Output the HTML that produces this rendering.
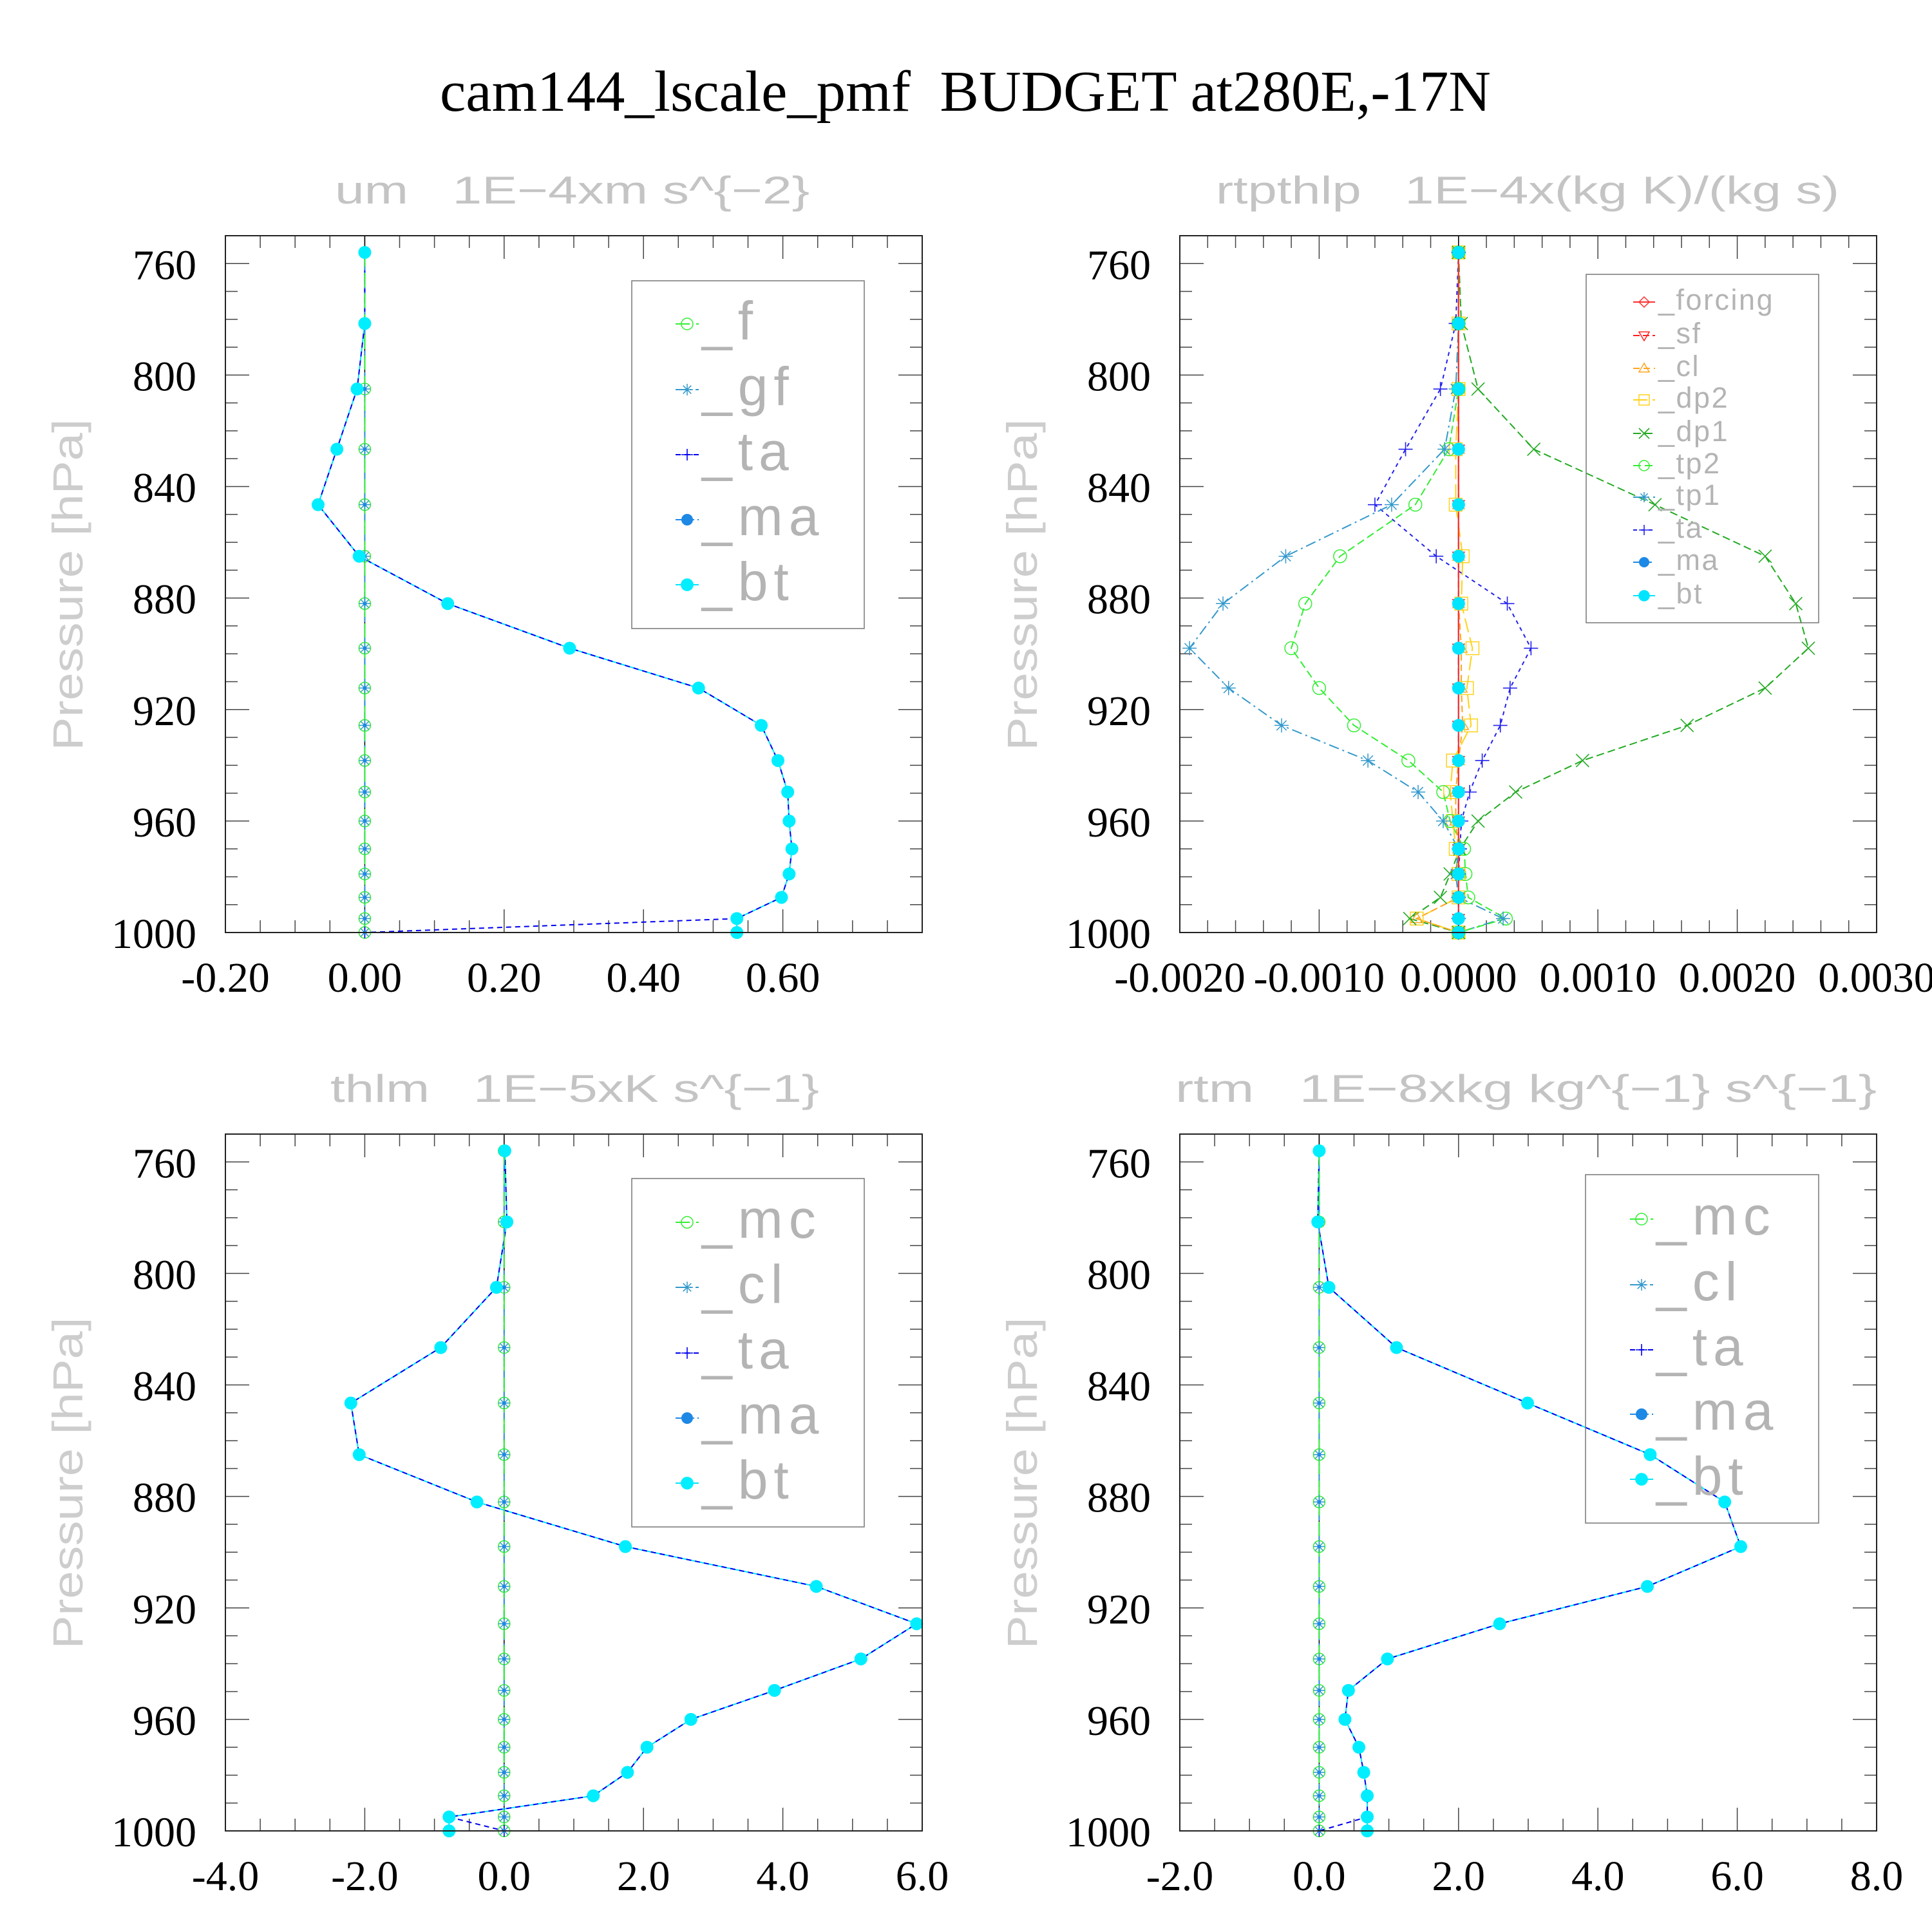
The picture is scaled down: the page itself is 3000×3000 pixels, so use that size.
<!DOCTYPE html>
<html><head><meta charset="utf-8"><style>
html,body{margin:0;padding:0;background:#fff;}
svg{display:block;}
</style></head>
<body>
<svg id="fig" xmlns="http://www.w3.org/2000/svg" width="3000" height="3000" viewBox="0 0 3000 3000">
<rect x="0" y="0" width="3000" height="3000" fill="#fff"/>
<text x="1499" y="172" text-anchor="middle" font-family="Liberation Serif, serif" font-size="90" fill="#000" textLength="1632" lengthAdjust="spacingAndGlyphs" style="white-space:pre">cam144_lscale_pmf  BUDGET at280E,-17N</text>
<g id="plots"></g>
</svg>
<script>
// pressure levels (hPa)
const levels = [756,781.5,805,826.6,846.5,865,882,898,912.3,925.7,938.3,949.6,960,970,979,987.4,995,1000];
const zeros = [0,0,0,0,0,0,0,0,0,0,0,0,0,0,0,0,0,0];

// Panel 1: um
const um_bt = [0,0,-0.011,-0.040,-0.067,-0.008,0.119,0.294,0.479,0.569,0.593,0.607,0.609,0.613,0.609,0.598,0.534,0.534];
const um_ta = [0,0,-0.011,-0.040,-0.067,-0.008,0.119,0.294,0.479,0.569,0.593,0.607,0.609,0.613,0.609,0.598,0.534,0];
const um_xticks = [-0.2,0,0.2,0.4,0.6];
const um_xlabels = ["-0.20","0.00","0.20","0.40","0.60"];

// Panel 2: rtpthlp
const rp_dp1 = [0,0.00002,0.00014,0.00054,0.00141,0.0022,0.00242,0.00251,0.0022,0.00164,0.00089,0.00041,0.00014,0.00001,-0.00006,-0.00013,-0.00035,0];
const rp_tp2 = [0,0,0,-0.00007,-0.00031,-0.00085,-0.0011,-0.0012,-0.001,-0.00075,-0.00036,-0.00011,-0.00006,0.00004,0.00005,0.00007,0.00034,0];
const rp_tp1 = [0,0,-0.00002,-0.0001,-0.00048,-0.00124,-0.00169,-0.00193,-0.00165,-0.00127,-0.00065,-0.00029,-0.00011,0,-0.00002,0,0.00032,0];
const rp_ta = [0,-0.00002,-0.00013,-0.00038,-0.0006,-0.00016,0.00035,0.00052,0.00037,0.0003,0.00017,0.00008,0.00002,0.00001,0,0,0,0];
const rp_dp2 = [0,0,0,-0.00002,-0.00002,0.00003,0.00002,0.0001,0.00006,0.00009,-0.00004,-0.00006,-0.00004,-0.00002,0,0,-0.0003,0];
const rp_cl = [0,0,0,0,0,0,0,0.00002,0.00002,0.00003,0,-0.00002,-0.00002,0,0,0,-0.0003,0];
const rp_xticks = [-0.002,-0.001,0,0.001,0.002,0.003];
const rp_xlabels = ["-0.0020","-0.0010","0.0000","0.0010","0.0020","0.0030"];

// Panel 3: thlm
const th_bt = [0.01,0.04,-0.11,-0.91,-2.20,-2.08,-0.39,1.74,4.48,5.92,5.12,3.88,2.68,2.05,1.77,1.28,-0.79,-0.79];
const th_ta = [0.01,0.04,-0.11,-0.91,-2.20,-2.08,-0.39,1.74,4.48,5.92,5.12,3.88,2.68,2.05,1.77,1.28,-0.79,0];
const th_xticks = [-4,-2,0,2,4,6];
const th_xlabels = ["-4.0","-2.0","0.0","2.0","4.0","6.0"];

// Panel 4: rtm
const rt_bt = [0,-0.02,0.14,1.11,2.99,4.75,5.82,6.05,4.71,2.59,0.98,0.42,0.37,0.57,0.64,0.69,0.69,0.69];
const rt_ta = [0,-0.02,0.14,1.11,2.99,4.75,5.82,6.05,4.71,2.59,0.98,0.42,0.37,0.57,0.64,0.69,0.69,0];
const rt_xticks = [-2,0,2,4,6,8];
const rt_xlabels = ["-2.0","0.0","2.0","4.0","6.0","8.0"];

const yticks = [760,800,840,880,920,960,1000];
const ylabels = ["760","800","840","880","920","960","1000"];

const NS = "http://www.w3.org/2000/svg";
const root = document.getElementById('plots');
function mk(tag, attrs, parent){
  const e = document.createElementNS(NS, tag);
  for (const k in attrs) e.setAttribute(k, attrs[k]);
  (parent||root).appendChild(e);
  return e;
}

function marker(g, type, cx, cy, s, color){
  let e;
  if (type==='circle'){ e = mk('circle',{cx:cx,cy:cy,r:s,fill:'none',stroke:color,'stroke-width':1.5},g); }
  else if (type==='bt'){ e = mk('circle',{cx:cx,cy:cy,r:s,fill:color,stroke:'none'},g); }
  else if (type==='dot'){ e = mk('circle',{cx:cx,cy:cy,r:s,fill:color},g); }
  else if (type==='plus'){ e = mk('path',{d:`M${cx-s} ${cy}H${cx+s}M${cx} ${cy-s}V${cy+s}`,stroke:color,'stroke-width':1.6,fill:'none'},g); }
  else if (type==='x'){ e = mk('path',{d:`M${cx-s} ${cy-s}L${cx+s} ${cy+s}M${cx-s} ${cy+s}L${cx+s} ${cy-s}`,stroke:color,'stroke-width':1.6,fill:'none'},g); }
  else if (type==='star'){ const d=s*0.7; e = mk('path',{d:`M${cx-s} ${cy}H${cx+s}M${cx} ${cy-s}V${cy+s}M${cx-d} ${cy-d}L${cx+d} ${cy+d}M${cx-d} ${cy+d}L${cx+d} ${cy-d}`,stroke:color,'stroke-width':1.5,fill:'none'},g); }
  else if (type==='diamond'){ e = mk('path',{d:`M${cx} ${cy-s}L${cx+s} ${cy}L${cx} ${cy+s}L${cx-s} ${cy}Z`,stroke:color,'stroke-width':1.5,fill:'none'},g); }
  else if (type==='tdown'){ e = mk('path',{d:`M${cx-s} ${cy-s*0.7}H${cx+s}L${cx} ${cy+s}Z`,stroke:color,'stroke-width':1.5,fill:'none'},g); }
  else if (type==='tup'){ e = mk('path',{d:`M${cx-s} ${cy+s*0.7}H${cx+s}L${cx} ${cy-s}Z`,stroke:color,'stroke-width':1.5,fill:'none'},g); }
  else if (type==='square'){ e = mk('rect',{x:cx-s,y:cy-s,width:2*s,height:2*s,stroke:color,'stroke-width':1.5,fill:'none'},g); }
  return e;
}

function panel(cfg){
  const g = mk('g',{});
  
  
  const X0=cfg.x0, Y0=cfg.y0, W=1082, H=1082;
  const sx = v => X0 + (v-cfg.xmin)/(cfg.xmax-cfg.xmin)*W;
  const sy = p => Y0 + (p-750)/250*H;

  const st = mk('text',{x:cfg.stx, y:Y0-50, 'font-family':'Liberation Sans, sans-serif','font-size':60, fill:'#c4c4c4', textLength:cfg.stw, lengthAdjust:'spacingAndGlyphs', style:'white-space:pre'},g);
  
  
  st.textContent = cfg.subtitle;

  const yt = mk('text',{x:0,y:0,transform:`translate(${X0-240+18},${Y0+542}) rotate(-90)`,'text-anchor':'middle','font-family':'Liberation Sans, sans-serif','font-size':66,fill:'#cdcdcd',textLength:515,lengthAdjust:'spacingAndGlyphs'},g);
  
  
  yt.textContent = 'Pressure [hPa]';

  const tk = mk('g',{stroke:'#444','stroke-width':1.5},g);
  
  
  for (let p=750; p<=1000; p+=10){
    const y = sy(p); const maj = (p-760)%40===0;
    const L = maj?37:19;
    mk('line',{x1:X0,y1:y,x2:X0+L,y2:y},tk);
    mk('line',{x1:X0+W-L,y1:y,x2:X0+W,y2:y},tk);
  }
  const nmin = Math.round((cfg.xmax-cfg.xmin)/cfg.minor);
  for (let i=0;i<=nmin;i++){
    const v = cfg.xmin + i*cfg.minor; const x = sx(v);
    const maj = Math.abs(((v-cfg.xmin)/cfg.major) - Math.round((v-cfg.xmin)/cfg.major))<1e-6;
    const L = maj?36:19;
    mk('line',{x1:x,y1:Y0,x2:x,y2:Y0+L},tk);
    mk('line',{x1:x,y1:Y0+H-L,x2:x,y2:Y0+H},tk);
  }
  yticks.forEach((p,i)=>{
    const t = mk('text',{x:X0-45,y:sy(p)+24,'text-anchor':'end','font-family':'Liberation Serif, serif','font-size':66,fill:'#000'},g);
    
    
    t.textContent = ylabels[i];
  });
  cfg.xticks.forEach((v,i)=>{
    const t = mk('text',{x:sx(v),y:Y0+H+92,'text-anchor':'middle','font-family':'Liberation Serif, serif','font-size':66,fill:'#000'},g);
    
    
    t.textContent = cfg.xlabels[i];
  });

  mk('line',{x1:sx(0),y1:Y0,x2:sx(0),y2:Y0+H,stroke:'#000','stroke-width':1.5},g);

  // lines drawn in reverse so dashed blue ta lies over the cyan bt line
  cfg.series.slice().reverse().forEach(s=>{
    const pts = s.vals.map((v,i)=>sx(v).toFixed(1)+','+sy(levels[i]).toFixed(1)).join(' ');
    const pl = mk('polyline',{points:pts,fill:'none',stroke:s.lcolor||s.color,'stroke-width':s.lw||2,'stroke-dasharray':s.dash||'none'},g);
    
    
  });
  cfg.series.forEach(s=>{
    s.vals.forEach((v,i)=>{
      const m = marker(g, s.marker, sx(v), sy(levels[i]), s.ms, s.color);
      
      
    });
  });

  const fr = mk('rect',{x:X0,y:Y0,width:W,height:H,fill:'none',stroke:'#222','stroke-width':2},g);
  
  

  const lg = mk('g',{},g);
  
  
  const L = cfg.legend;
  mk('rect',{x:L.x,y:L.y,width:L.w,height:L.h,fill:'none',stroke:'#777','stroke-width':1.5},lg);
  cfg.series.forEach((s,i)=>{
    const cy = L.ey[i];
    const en = mk('g',{},lg);
    
    
    mk('line',{x1:L.sx-L.ll,y1:cy,x2:L.sx+L.ll,y2:cy,stroke:s.lcolor||s.color,'stroke-width':2,'stroke-dasharray':s.dash||'none'},en);
    marker(en, s.marker, L.sx, cy, L.ms*(s.marker==='bt'?1.1:1), s.color);
    const t = mk('text',{x:L.tx,y:cy+L.dy,'font-family':'Liberation Sans, sans-serif','font-size':L.fs,fill:'#b4b4b4','letter-spacing':L.ls},en);
    t.textContent = '_'+s.key;
  });
}

panel({name:'panel-um', x0:350, y0:366, xmin:-0.2, xmax:0.8, major:0.2, minor:0.05,
  xticks:um_xticks, xlabels:um_xlabels, subtitle:'um   1E\u22124xm s^{\u22122}', stx:520, stw:737,
  series:[
    {key:'f', vals:zeros, color:'#33ee33', dash:'22,10', marker:'circle', ms:9},
    {key:'gf', vals:zeros, color:'#3399cc', dash:'16,6,3,6', marker:'star', ms:9},
    {key:'ta', vals:um_ta, color:'#0000ee', dash:'8,6', marker:'plus', ms:9},
    {key:'ma', vals:zeros, color:'#1e88e5', dash:'12,5', marker:'dot', ms:3},
    {key:'bt', vals:um_bt, color:'#00eeff', lcolor:'#00e5ff', marker:'bt', ms:10}
  ],
  legend:{x:981,y:436,w:361,h:540,ey:[503,605,706,807,908],sx:1067,ll:18,ms:9,tx:1090,dy:24,fs:84,ls:9}
});

panel({name:'panel-rtpthlp', x0:1832, y0:366, xmin:-0.002, xmax:0.003, major:0.001, minor:0.0002,
  xticks:rp_xticks, xlabels:rp_xlabels, subtitle:'rtpthlp   1E\u22124x(kg K)/(kg s)', stx:1888, stw:968,
  series:[
    {key:'forcing', vals:zeros, color:'#ff3030', marker:'diamond', ms:9},
    {key:'sf', vals:zeros, color:'#ff2020', dash:'10,5', marker:'tdown', ms:9},
    {key:'cl', vals:rp_cl, color:'#ffa520', dash:'10,6', marker:'tup', ms:9},
    {key:'dp2', vals:rp_dp2, color:'#ffd21a', dash:'22,8', marker:'square', ms:10},
    {key:'dp1', vals:rp_dp1, color:'#22aa22', dash:'12,6', marker:'x', ms:10},
    {key:'tp2', vals:rp_tp2, color:'#33ee33', dash:'12,6', marker:'circle', ms:10},
    {key:'tp1', vals:rp_tp1, color:'#3399cc', dash:'16,6,3,6', marker:'star', ms:11},
    {key:'ta', vals:rp_ta, color:'#2222ee', dash:'6,6', marker:'plus', ms:11},
    {key:'ma', vals:zeros, color:'#1e88e5', dash:'12,5', marker:'dot', ms:3},
    {key:'bt', vals:zeros, color:'#00e5ff', marker:'bt', ms:10}
  ],
  legend:{x:2463,y:426,w:361,h:541,ey:[469,521,572,621,673,723,772,823,873,925],sx:2553,ll:17,ms:8,tx:2575,dy:12,fs:45,ls:2.5}
});

panel({name:'panel-thlm', x0:350, y0:1761, xmin:-4, xmax:6, major:2, minor:0.5,
  xticks:th_xticks, xlabels:th_xlabels, subtitle:'thlm   1E\u22125xK s^{\u22121}', stx:513, stw:759,
  series:[
    {key:'mc', vals:zeros, color:'#33ee33', dash:'22,10', marker:'circle', ms:9},
    {key:'cl', vals:zeros, color:'#3399cc', dash:'16,6,3,6', marker:'star', ms:9},
    {key:'ta', vals:th_ta, color:'#0000ee', dash:'8,6', marker:'plus', ms:9},
    {key:'ma', vals:zeros, color:'#1e88e5', dash:'12,5', marker:'dot', ms:3},
    {key:'bt', vals:th_bt, color:'#00eeff', lcolor:'#00e5ff', marker:'bt', ms:10}
  ],
  legend:{x:981,y:1830,w:361,h:541,ey:[1898,1999,2101,2202,2303],sx:1067,ll:18,ms:9,tx:1090,dy:24,fs:84,ls:9}
});

panel({name:'panel-rtm', x0:1832, y0:1761, xmin:-2, xmax:8, major:2, minor:0.5,
  xticks:rt_xticks, xlabels:rt_xlabels, subtitle:'rtm   1E\u22128xkg kg^{\u22121} s^{\u22121}', stx:1825, stw:1089,
  series:[
    {key:'mc', vals:zeros, color:'#33ee33', dash:'22,10', marker:'circle', ms:9},
    {key:'cl', vals:zeros, color:'#3399cc', dash:'16,6,3,6', marker:'star', ms:9},
    {key:'ta', vals:rt_ta, color:'#0000ee', dash:'8,6', marker:'plus', ms:9},
    {key:'ma', vals:zeros, color:'#1e88e5', dash:'12,5', marker:'dot', ms:3},
    {key:'bt', vals:rt_bt, color:'#00eeff', lcolor:'#00e5ff', marker:'bt', ms:10}
  ],
  legend:{x:2462,y:1824,w:362,h:541,ey:[1893,1995,2096,2196,2297],sx:2549,ll:18,ms:9,tx:2572,dy:24,fs:84,ls:9}
});
</script>
</body></html>
